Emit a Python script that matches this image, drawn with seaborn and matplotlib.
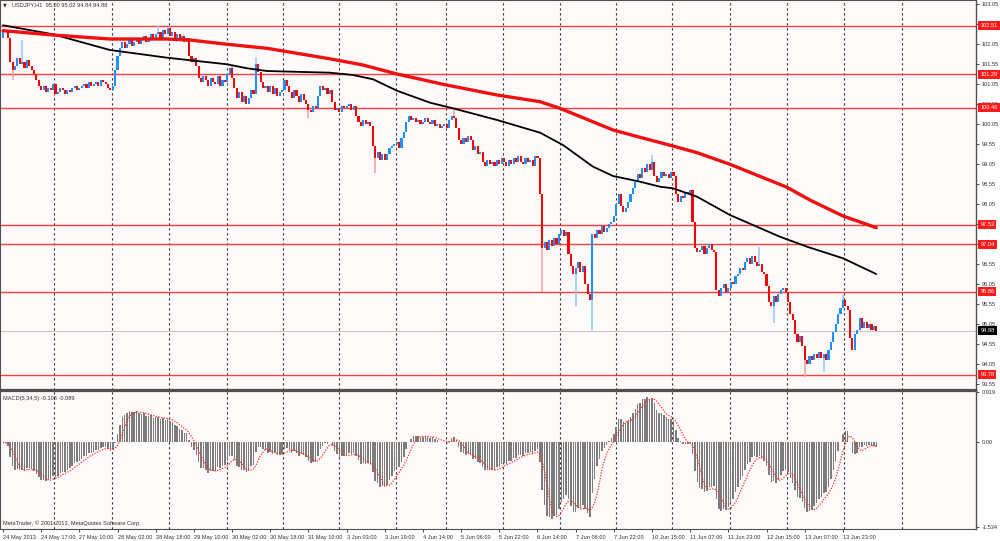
import numpy as np
import pandas as pd
import matplotlib
matplotlib.use("Agg")
import matplotlib.pyplot as plt
import matplotlib.transforms as mtransforms
import seaborn as sns

# ---------------- data ----------------
symbol_header = "USDJPY,H1  95.00 95.02 94.84 94.88"
macd_header = "MACD(5,34,5) -0.108 -0.089"
copyright_text = "MetaTrader, \u00a9 2001-2013, MetaQuotes Software Corp."

first_open = 102.20
close = [
    102.4, 102.35, 102.2, 101.6, 101.4, 101.5, 101.7, 101.55, 101.6, 101.45, 101.65, 101.5, 101.4, 101.3, 101.15, 101.0,
    100.9, 101.0, 100.85, 100.95, 100.9, 101.05, 100.8, 100.85, 100.95, 100.9, 100.8, 100.9, 100.85, 100.95, 101.0, 100.9,
    100.95, 101.0, 101.05, 100.95, 101.1, 101.0, 101.05, 101.1, 101.0, 101.15, 101.1, 101.05, 100.95, 100.9, 101.0, 101.4,
    101.75, 101.95, 102.1, 101.95, 102.05, 102.15, 102.0, 102.1, 102.2, 102.05, 102.15, 102.25, 102.1, 102.2, 102.3, 102.15,
    102.3, 102.35, 102.2, 102.4, 102.3, 102.45, 102.25, 102.35, 102.2, 102.3, 102.15, 102.25, 102.1, 102.2, 101.75, 101.6,
    101.7, 101.5, 101.2, 101.1, 101.25, 101.15, 101.0, 101.2, 101.1, 101.05, 101.25, 101.0, 101.15, 101.1, 101.3, 101.45,
    101.2, 100.95, 100.7, 100.85, 100.6, 100.75, 100.55, 100.7, 100.9, 100.8, 101.55, 101.35, 101.1, 100.95, 101.0, 100.85,
    101.0, 100.8, 100.95, 100.75, 100.85, 100.9, 101.15, 101.0, 100.85, 100.7, 100.9, 100.75, 100.6, 100.8, 100.65, 100.55,
    100.4, 100.35, 100.5, 100.45, 100.75, 101.0, 100.9, 100.95, 100.8, 100.9, 100.6, 100.4, 100.45, 100.35, 100.5, 100.45,
    100.5, 100.55, 100.4, 100.5, 100.25, 100.1, 100.0, 100.15, 100.05, 100.1, 100.0, 99.5, 99.2, 99.35, 99.15, 99.3,
    99.15, 99.3, 99.45, 99.5, 99.55, 99.6, 99.45, 99.7, 99.85, 100.1, 100.25, 100.15, 100.2, 100.1, 100.15, 100.05,
    100.1, 100.2, 100.1, 100.05, 100.15, 100.0, 100.05, 99.95, 100.0, 100.05, 99.95, 100.15, 100.25, 100.2, 99.95, 99.65,
    99.55, 99.7, 99.6, 99.75, 99.65, 99.4, 99.5, 99.3, 99.35, 99.1, 99.0, 99.15, 99.05, 99.1, 99.0, 99.15,
    99.05, 99.2, 99.1, 99.0, 99.15, 99.05, 99.2, 99.1, 99.25, 99.1, 99.05, 99.2, 99.1, 99.15, 99.0, 99.25,
    99.2, 98.3, 96.95, 97.1, 96.9, 97.15, 97.0, 97.2, 97.05, 97.3, 97.4, 97.25, 97.35, 96.8, 96.5, 96.3,
    96.45, 96.6, 96.35, 96.5, 96.05, 95.8, 95.65, 97.3, 97.2, 97.4, 97.3, 97.5, 97.35, 97.45, 97.55, 97.6,
    97.75, 98.05, 98.3, 98.0, 97.85, 97.95, 98.1, 98.3, 98.45, 98.6, 98.8, 98.7, 98.95, 98.85, 99.05, 98.9,
    99.1, 98.75, 98.6, 98.7, 98.85, 98.75, 98.8, 98.7, 98.85, 98.75, 98.3, 98.1, 98.25, 98.2, 98.35, 98.3,
    98.4, 97.6, 96.95, 96.85, 96.9, 97.0, 96.8, 96.95, 97.05, 96.9, 96.85, 95.9, 95.75, 95.95, 96.05, 95.85,
    95.95, 96.1, 96.05, 96.25, 96.3, 96.45, 96.4, 96.6, 96.7, 96.55, 96.75, 96.6, 96.5, 96.55, 96.35, 96.3,
    96.0, 95.6, 95.5, 95.75, 95.6, 95.8, 95.9, 95.95, 95.85, 95.6, 95.3, 95.15, 94.8, 94.6, 94.75, 94.5,
    94.15, 94.05, 94.25, 94.15, 94.3, 94.2, 94.35, 94.2, 94.3, 94.15, 94.4, 94.6, 94.85, 95.05, 95.3, 95.45,
    95.65, 95.5, 95.4, 94.7, 94.4, 94.8, 94.9, 95.2, 94.95, 95.1, 94.95, 95.05, 94.9, 95.0, 94.88,
]
wick_high_idx = [8, 65, 70, 96, 106, 189, 272, 317, 352]
wick_high_val = [102.15, 102.5, 102.5, 101.5, 101.72, 100.45, 99.27, 96.97, 95.77]
wick_low_idx = [4, 22, 128, 156, 226, 240, 247, 323, 336, 344]
wick_low_val = [101.15, 100.77, 100.2, 98.82, 95.85, 95.5, 94.9, 95.07, 93.72, 93.85]

# moving averages read at these bar positions
black_ma_bar = [0, 21.0, 44.8, 52.0, 68.7, 93.9, 102.3, 110.6, 137.0, 146.7, 155.1, 165.1,
                179.0, 188.6, 207.1, 225.1, 234.7, 247.3, 255.7, 267.0, 275.4, 280.8, 290.9,
                304.7, 325.6, 337.0, 352.1, 366]
black_ma = [102.518, 102.293, 101.9, 101.843, 101.708, 101.543, 101.443, 101.375, 101.333,
            101.275, 101.168, 100.883, 100.583, 100.443, 100.15, 99.833, 99.525, 98.983,
            98.75, 98.608, 98.483, 98.443, 98.233, 97.775, 97.233, 96.983, 96.693, 96.3]
red_ma_bar = [0, 21.0, 44.8, 68.7, 78.4, 93.9, 110.6, 137.0, 150.9, 165.1, 184.4, 207.1,
              225.1, 233.4, 255.7, 267.0, 280.8, 290.9, 304.7, 328.6, 338.2, 352.1, 366]
red_ma = [102.383, 102.275, 102.175, 102.175, 102.15, 102.043, 101.943, 101.68, 101.525,
          101.3, 101.043, 100.775, 100.608, 100.443, 99.9, 99.718, 99.5, 99.333, 99.043,
          98.468, 98.15, 97.75, 97.458]

levels = [102.51, 101.29, 100.46, 97.53, 97.04, 95.86, 93.78]
last_price = 94.88
price_ticks = [103.05, 102.55, 102.05, 101.55, 101.05, 100.55, 100.05, 99.55, 99.05, 98.55,
               98.05, 97.55, 97.05, 96.55, 96.05, 95.55, 95.05, 94.55, 94.05, 93.55]
macd_ticks = [0.919, 0.00, -1.534]
macd_tick_labels = ["0.919", "0.00", "-1.534"]
date_labels = ["24 May 2013", "24 May 17:00", "27 May 10:00", "28 May 02:00", "28 May 18:00",
               "29 May 10:00", "30 May 02:00", "30 May 18:00", "31 May 10:00", "3 Jun 03:00",
               "3 Jun 19:00", "4 Jun 14:00", "5 Jun 06:00", "5 Jun 22:00", "6 Jun 14:00",
               "7 Jun 06:00", "7 Jun 22:00", "10 Jun 15:00", "11 Jun 07:00", "11 Jun 23:00",
               "12 Jun 15:00", "13 Jun 07:00", "13 Jun 23:00"]
date_label_bars = [16 * k for k in range(len(date_labels))]
grid_bars = [21.5, 45.6, 69.6, 93.8, 117.5, 140.8, 164.7, 185.7, 209.7, 233.6, 256.8,
             280.5, 304.7, 328.7, 352.6, 376.7]

# ---------------- derived ----------------
n = len(close)
idx = np.arange(n)
c = np.array(close)
o = np.concatenate([[first_open], c[:-1]])
hi = np.maximum(o, c)
lo = np.minimum(o, c)
for i, v in zip(wick_high_idx, wick_high_val):
    hi[i] = max(hi[i], v)
for i, v in zip(wick_low_idx, wick_low_val):
    lo[i] = min(lo[i], v)

s = pd.Series(c)
macd = s.ewm(span=5, adjust=False).mean() - s.ewm(span=34, adjust=False).mean()
signal = macd.rolling(5, min_periods=1).mean()

# ---------------- figure ----------------
sns.set_theme(style="white")
plt.rcParams["font.family"] = ["Liberation Sans", "DejaVu Sans"]
BG = "#fffafa"
fs = 4.05
TXT = "#303030"

fig = plt.figure(figsize=(10, 5.41), dpi=100, facecolor="white")
ax = fig.add_axes([0.0, 0.279, 0.976, 0.721], facecolor=BG)
ax2 = fig.add_axes([0.0, 0.0222, 0.976, 0.2551], facecolor=BG, sharex=ax)

xmin, xmax = -1.26, 407.8
ax.set_xlim(xmin, xmax)
ax.set_ylim(93.4, 103.15)
ax2.set_ylim(-1.575, 0.934)

# vertical dashed grid
for g in grid_bars:
    ax.axvline(g, color="#303030", lw=0.8, ls=(0, (2, 2.5)), zorder=1)
    ax2.axvline(g, color="#303030", lw=0.8, ls=(0, (2, 2.5)), zorder=1)

# horizontal level lines
for lv in levels:
    ax.axhline(lv, color="#ff3b3b", lw=1.0, zorder=2)
ax.axhline(last_price, color="#c8c8c8", lw=0.8, zorder=1.5)

# candles
up = c >= o
wick_col = np.where(up, "#8ec9ff", "#ff9c9c")
body_col = np.where(up, "#1e8fff", "#ff0000")
ax.vlines(idx, lo, hi, colors=wick_col, lw=1.1, zorder=3)
body_h = np.maximum(np.abs(c - o), 0.025)
ax.bar(idx, body_h, bottom=np.minimum(o, c), width=0.88, color=body_col, linewidth=0, zorder=4)

# moving averages
sns.lineplot(x=black_ma_bar, y=black_ma, ax=ax, color="black", lw=1.3, zorder=5)
sns.lineplot(x=red_ma_bar, y=red_ma, ax=ax, color="#ee1111", lw=2.4, zorder=5)

# right axis price ticks
ax.yaxis.tick_right()
ax.set_yticks(price_ticks)
ax.set_yticklabels([f"{t:.2f}" for t in price_ticks])
ax.tick_params(axis="y", which="both", right=True, length=2.5, width=0.6, pad=1.5,
               labelsize=fs, colors=TXT, labelcolor=TXT)
ax.tick_params(axis="x", bottom=False, labelbottom=False)

trans = mtransforms.blended_transform_factory(ax.transAxes, ax.transData)
for lv in levels:
    ax.text(1.0045, lv, f"{lv:.2f}", transform=trans, ha="left", va="center", fontsize=fs,
            color="white", zorder=10, clip_on=False,
            bbox=dict(boxstyle="square,pad=0.35", fc="#ff1a1a", ec="none"))
ax.text(1.0045, last_price, f"{last_price:.2f}", transform=trans, ha="left", va="center",
        fontsize=fs, color="white", zorder=10, clip_on=False,
        bbox=dict(boxstyle="square,pad=0.35", fc="black", ec="none"))

ax.text(0.003, 0.993, "\u25bc", transform=ax.transAxes, ha="left", va="top",
        fontsize=3.6, color=TXT, family="DejaVu Sans")
ax.text(0.012, 0.993, symbol_header, transform=ax.transAxes, ha="left", va="top",
        fontsize=fs, color=TXT)

# MACD panel
ax2.bar(idx, macd.values, width=0.62, color="#7c7c7c", linewidth=0, zorder=3)
sns.lineplot(x=idx, y=signal.values, ax=ax2, color="#ff2a2a", lw=0.9, ls=(0, (1, 1.2)), zorder=4)
ax2.yaxis.tick_right()
ax2.set_yticks(macd_ticks)
ax2.set_yticklabels(macd_tick_labels)
ax2.tick_params(axis="y", right=True, length=2.5, width=0.6, pad=1.5, labelsize=fs,
                colors=TXT, labelcolor=TXT)
ax2.set_xticks(date_label_bars)
ax2.set_xticklabels(date_labels)
ax2.tick_params(axis="x", bottom=True, length=2.5, width=0.6, pad=1.5, labelsize=fs,
                colors=TXT, labelcolor=TXT)
for lab in ax2.get_xticklabels():
    lab.set_horizontalalignment("left")
ax2.text(0.003, 0.965, macd_header, transform=ax2.transAxes, ha="left", va="top",
         fontsize=fs, color=TXT)
ax2.text(0.003, 0.02, copyright_text, transform=ax2.transAxes, ha="left", va="bottom",
         fontsize=fs, color=TXT)

for a in (ax, ax2):
    a.set_xlabel("")
    a.set_ylabel("")
    for sp in a.spines.values():
        sp.set_color("#505050")
        sp.set_linewidth(0.8)
    a.spines["right"].set_linewidth(1.0)
ax.spines["bottom"].set_linewidth(1.6)
ax2.spines["top"].set_linewidth(1.6)
ax.set_xlim(xmin, xmax)

fig.savefig("out.png", dpi=100, facecolor="white")
